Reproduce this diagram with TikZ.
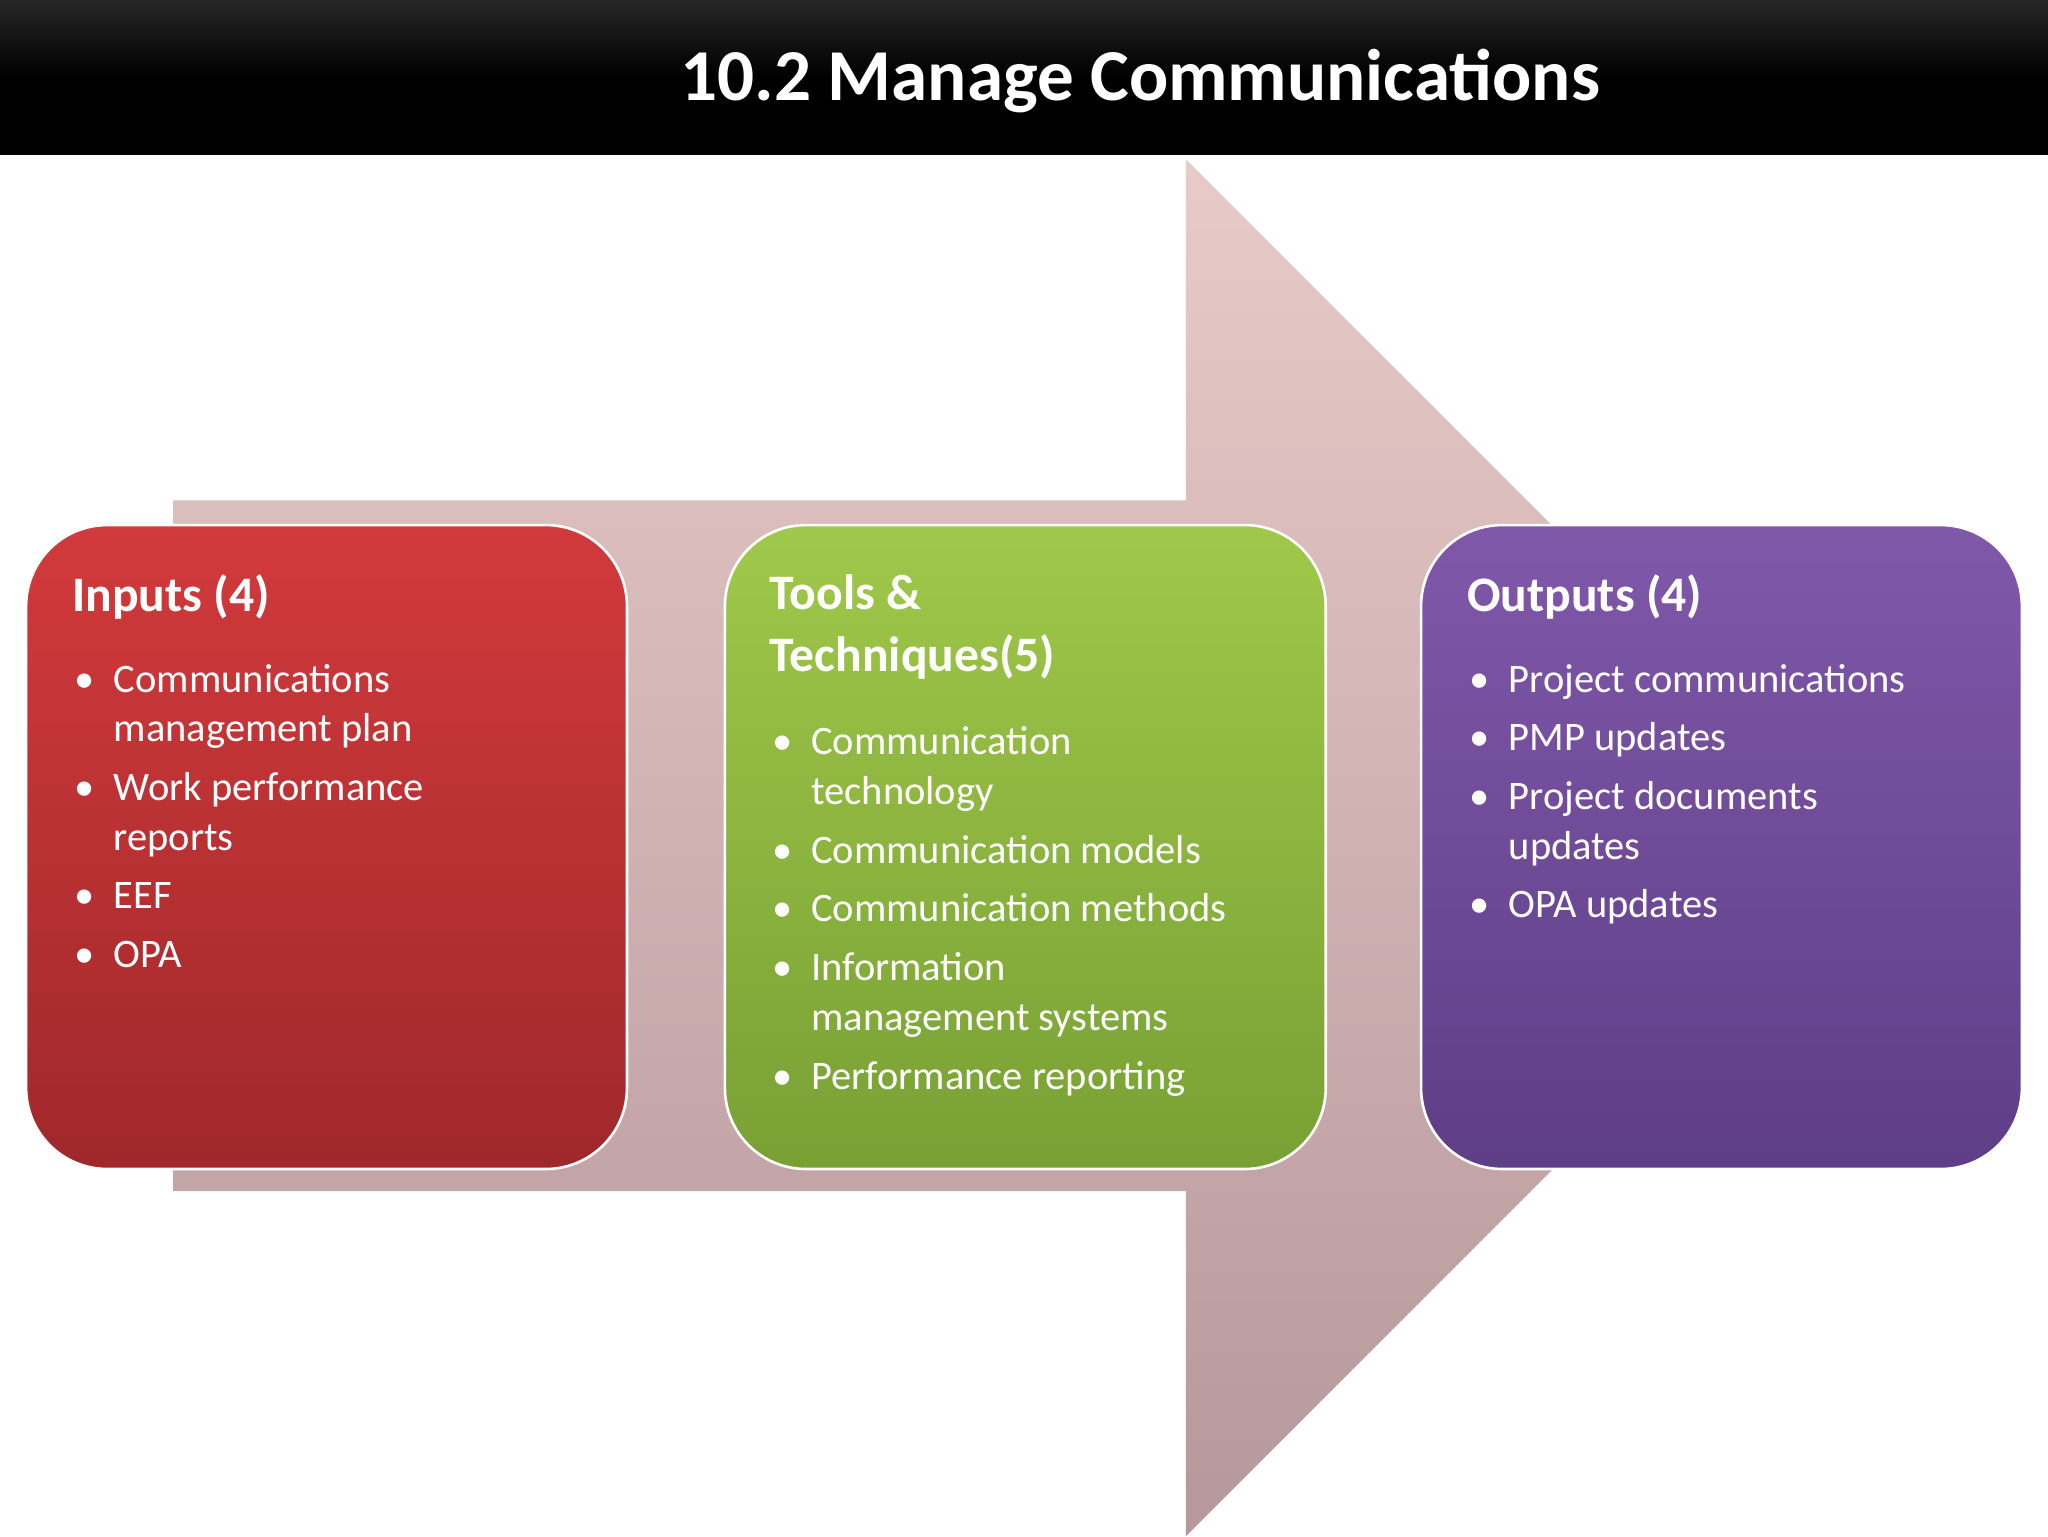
\documentclass[tikz,border=0pt]{standalone}
\usepackage{fontspec}
\setmainfont{Carlito}
\begin{document}
\begin{tikzpicture}[x=1pt,y=-1pt,
  box/.style={rounded corners=62pt,draw=white,line width=2pt},
  head/.style={anchor=north west,text=white,font=\fontsize{38}{47}\selectfont\bfseries,align=left,inner sep=0},
  list/.style={anchor=north west,text=white,font=\fontsize{31}{38}\selectfont,align=left,inner sep=0}]
\newcommand\itm[1]{\makebox[30pt][l]{\textbullet}&#1}
\useasboundingbox (0,0) rectangle (1568,1176);
\fill[white] (0,0) rectangle (1568,1176);
\shade[top color=black!85,bottom color=black,middle color=black] (0,0) rectangle (1568,118);
\node[text=white,font=\fontsize{56}{60}\selectfont\bfseries] (title) at (873,62) {10.2 Manage Communications};
\shade[top color=red!8!white!85!black!5, bottom color=red!20!black!35, top color={rgb,255:red,232;green,202;blue,200}, bottom color={rgb,255:red,182;green,152;blue,156}]
  (133,383) -- (908,383) -- (908,122) -- (1435,649) -- (908,1176) -- (908,912) -- (133,912) -- cycle;
\shade[box,top color={rgb,255:red,210;green,58;blue,60},bottom color={rgb,255:red,160;green,40;blue,42}] (20,402) rectangle (480,895);
\shade[box,top color={rgb,255:red,160;green,200;blue,74},bottom color={rgb,255:red,120;green,160;blue,52}] (555,402) rectangle (1015,895);
\shade[box,top color={rgb,255:red,128;green,88;blue,170},bottom color={rgb,255:red,94;green,62;blue,134}] (1088,402) rectangle (1548,895);
\node[head] (h1) at (55,440) {Inputs (4)};
\node[list] (l1) at (57,503) {\begin{tabular}{@{}l@{}l@{}}
\itm{Communications}\\ &management plan\\[7pt]
\itm{Work performance}\\ &reports\\[7pt]
\itm{EEF}\\[7pt]
\itm{OPA}\end{tabular}};
\node[head] (h2) at (589,440) {Tools \&\\Techniques(5)};
\node[list] (l2) at (591,551) {\begin{tabular}{@{}l@{}l@{}}
\itm{Communication}\\ &technology\\[7pt]
\itm{Communication models}\\[7pt]
\itm{Communication methods}\\[7pt]
\itm{Information}\\ &management systems\\[7pt]
\itm{Performance reporting}\end{tabular}};
\node[head] (h3) at (1123,440) {Outputs (4)};
\node[list] (l3) at (1125,503) {\begin{tabular}{@{}l@{}l@{}}
\itm{Project communications}\\[7pt]
\itm{PMP updates}\\[7pt]
\itm{Project documents}\\ &updates\\[7pt]
\itm{OPA updates}\end{tabular}};
\end{tikzpicture}
\end{document}
